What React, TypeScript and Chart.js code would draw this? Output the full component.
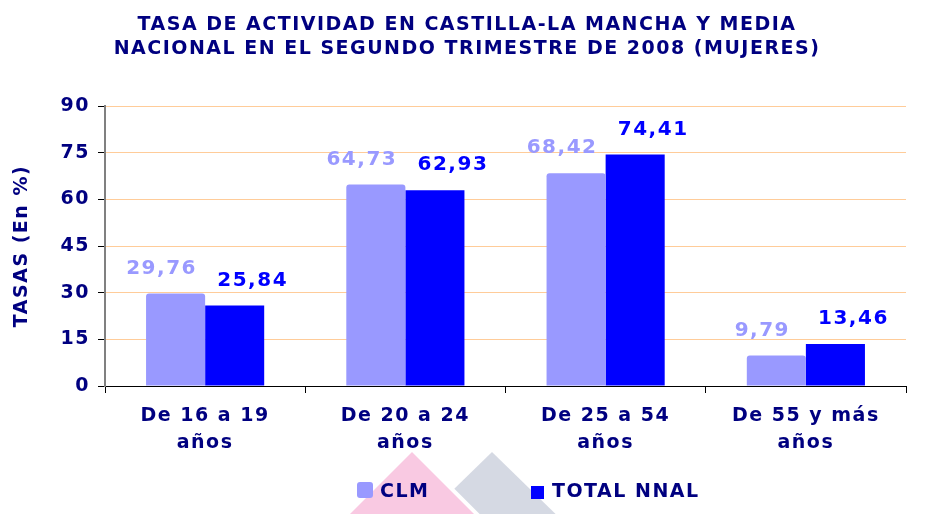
import { useEffect, useRef } from 'react';
import { Chart, registerables } from 'chart.js';

Chart.register(...registerables);

const titleLines = [
  'TASA DE ACTIVIDAD EN CASTILLA-LA MANCHA Y MEDIA',
  'NACIONAL EN EL SEGUNDO TRIMESTRE DE 2008 (MUJERES)',
];
const categories = [
  ['De 16 a 19', 'años'],
  ['De 20 a 24', 'años'],
  ['De 25 a 54', 'años'],
  ['De 55 y más', 'años'],
];
const seriesNames = ['CLM', 'TOTAL NNAL'];
const clmValues = [29.76, 64.73, 68.42, 9.79];
const nnalValues = [25.84, 62.93, 74.41, 13.46];
const yMin = 0;
const yMax = 90;
const yStep = 15;
const yAxisTitle = 'TASAS (En %)';

const FONT = '"DejaVu Sans", Verdana, sans-serif';
const NAVY = '#000080';
const CLM_COLOR = '#9999FF';
const NNAL_COLOR = '#0000FF';

const fmt = (v: number) => v.toFixed(2).replace('.', ',');

const decorPlugin = {
  id: 'decor',
  beforeDraw(chart: any) {
    const ctx = chart.ctx as CanvasRenderingContext2D;
    ctx.save();
    ctx.fillStyle = '#ffffff';
    ctx.fillRect(0, 0, chart.width, chart.height);
    // faint decorative triangles (background logo)
    ctx.fillStyle = '#D5D9E3';
    ctx.beginPath();
    ctx.moveTo(492, 452);
    ctx.lineTo(572, 530);
    ctx.lineTo(412, 530);
    ctx.closePath();
    ctx.fill();
    ctx.fillStyle = '#F9C9E2';
    ctx.strokeStyle = '#ffffff';
    ctx.lineWidth = 8;
    ctx.beginPath();
    ctx.moveTo(412, 452);
    ctx.lineTo(490, 530);
    ctx.lineTo(334, 530);
    ctx.closePath();
    ctx.stroke();
    ctx.fill();
    ctx.restore();
    (ctx as any).letterSpacing = '1.5px';
  },
  afterDatasetsDraw(chart: any) {
    const ctx = chart.ctx as CanvasRenderingContext2D;
    ctx.save();
    ctx.font = `bold 20px ${FONT}`;
    ctx.textAlign = 'center';
    ctx.textBaseline = 'middle';
    const shifts = [-14, 18];
    chart.data.datasets.forEach((ds: any, di: number) => {
      const meta = chart.getDatasetMeta(di);
      ctx.fillStyle = ds.backgroundColor;
      meta.data.forEach((bar: any, i: number) => {
        ctx.fillText(fmt(ds.data[i]), bar.x + shifts[di], bar.y - 25);
      });
    });
    ctx.restore();
  },
  afterDraw(chart: any) {
    const ctx = chart.ctx as CanvasRenderingContext2D;
    ctx.save();
    // title
    ctx.fillStyle = NAVY;
    ctx.font = `bold 19px ${FONT}`;
    ctx.textAlign = 'center';
    ctx.textBaseline = 'middle';
    ctx.fillText(titleLines[0], 467, 25);
    ctx.fillText(titleLines[1], 467, 49);
    // legend
    ctx.textAlign = 'left';
    ctx.fillStyle = CLM_COLOR;
    ctx.beginPath();
    (ctx as any).roundRect(357, 482, 16, 16, 3);
    ctx.fill();
    ctx.fillStyle = NAVY;
    ctx.fillText(seriesNames[0], 380, 492);
    ctx.fillStyle = NNAL_COLOR;
    ctx.fillRect(531, 486, 13, 13);
    ctx.fillStyle = NAVY;
    ctx.fillText(seriesNames[1], 552, 492);
    ctx.restore();
  },
};

export default function App() {
  const ref = useRef<HTMLCanvasElement>(null);
  useEffect(() => {
    if (!ref.current) return;
    const chart = new Chart(ref.current, {
      type: 'bar',
      data: {
        labels: categories,
        datasets: [
          {
            label: seriesNames[0],
            data: clmValues,
            backgroundColor: CLM_COLOR,
            borderRadius: { topLeft: 3, topRight: 3, bottomLeft: 0, bottomRight: 0 },
            borderSkipped: false,
            categoryPercentage: 0.59,
            barPercentage: 1,
          },
          {
            label: seriesNames[1],
            data: nnalValues,
            backgroundColor: NNAL_COLOR,
            categoryPercentage: 0.59,
            barPercentage: 1,
          },
        ],
      },
      options: {
        responsive: false,
        animation: false,
        layout: { padding: { top: 106, right: 26, bottom: 0, left: 0 } },
        plugins: {
          legend: { display: false },
          title: { display: false },
          tooltip: { enabled: false },
        },
        scales: {
          x: {
            offset: true,
            grid: {
              offset: true,
              drawOnChartArea: false,
              drawTicks: true,
              tickLength: 7,
              tickColor: '#000000',
            },
            border: { color: '#000000', width: 1 },
            ticks: {
              color: NAVY,
              font: { family: FONT, size: 19, weight: 'bold', lineHeight: 27 / 19 },
              padding: 10,
              maxRotation: 0,
              autoSkip: false,
            },
            afterFit(scale: any) {
              scale.height = 128;
            },
          },
          y: {
            min: yMin,
            max: yMax,
            ticks: {
              stepSize: yStep,
              color: NAVY,
              font: { family: FONT, size: 19, weight: 'bold' },
              padding: 8,
            },
            grid: { color: '#FFCC99', tickColor: '#000000', tickLength: 7 },
            border: { color: '#808080', width: 2 },
            title: {
              display: true,
              text: yAxisTitle,
              color: NAVY,
              font: { family: FONT, size: 19, weight: 'bold' },
              padding: { top: 11, bottom: 0 },
            },
            afterFit(scale: any) {
              scale.width = 105;
            },
          },
        },
      },
      plugins: [decorPlugin],
    } as any);
    return () => chart.destroy();
  }, []);
  return (
    <div style={{ position: 'absolute', left: 0, top: 0, width: 932, height: 514 }}>
      <canvas ref={ref} width={932} height={514} />
    </div>
  );
}
